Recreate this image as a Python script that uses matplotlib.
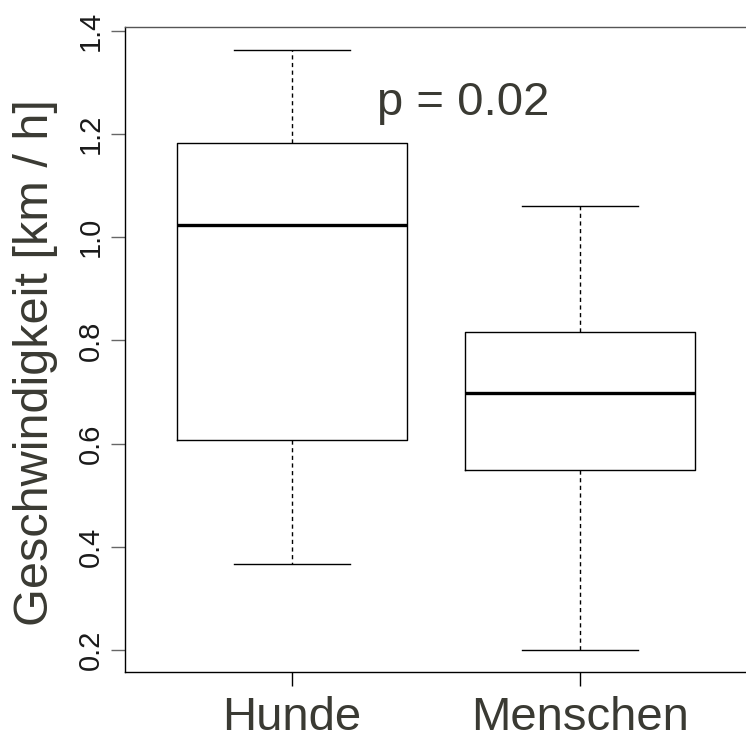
import matplotlib
matplotlib.use("Agg")
import matplotlib.pyplot as plt
import numpy as np

plt.rcParams['font.family'] = ['Liberation Sans', 'DejaVu Sans']

# box statistics
groups = ["Hunde", "Menschen"]
whisker_low = [0.367, 0.200]
q1 = [0.607, 0.549]
median = [1.024, 0.698]
q3 = [1.183, 0.816]
whisker_high = [1.363, 1.061]

yticks = [0.2, 0.4, 0.6, 0.8, 1.0, 1.2, 1.4]
p_text = "p = 0.02"

text_col = '#3a3a33'

fig = plt.figure(figsize=(7.46, 7.43), dpi=100)
ax = fig.add_axes([125 / 746, 1 - 672 / 743, 622 / 746, 645 / 743])

stats = []
for i, g in enumerate(groups):
    stats.append(dict(label=g, whislo=whisker_low[i], q1=q1[i], med=median[i],
                      q3=q3[i], whishi=whisker_high[i], fliers=[]))

ax.bxp(stats, positions=[1, 2], widths=0.8, showfliers=False,
       boxprops=dict(color='black', lw=1.0),
       medianprops=dict(color='black', lw=2.4, solid_capstyle='butt'),
       whiskerprops=dict(color='black', lw=1.0, linestyle=(0, (3, 2.5))),
       capprops=dict(color='black', lw=1.0),
       capwidths=0.4)

ax.set_xlim(0.42, 2.58)
ax.set_ylim(0.157, 1.4078)

ax.set_yticks(yticks)
ax.set_yticklabels([f"{v:.1f}" for v in yticks])
ax.set_xticks([1, 2])
ax.set_xticklabels(groups)

ax.tick_params(axis='y', labelrotation=90, length=10, width=1, color='#666666',
               labelsize=21, labelcolor='#1a1a1a', pad=4.5)
ax.tick_params(axis='x', length=10, width=1, color='black',
               labelsize=34, labelcolor=text_col, pad=7.5)
for lab in ax.get_yticklabels():
    lab.set_va('center')

for s in ax.spines.values():
    s.set_linewidth(1.0)
    s.set_color('black')
ax.spines['top'].set_color('#555555')

fig.text(36 / 746, 1 - 363 / 743, "Geschwindigkeit [km / h]", rotation=90,
         ha='center', va='center', fontsize=35, color=text_col)

ax.text(1.596, 1.4 - (115 - 31) / 515.8, p_text, ha='center', va='baseline',
        fontsize=34, color=text_col)

fig.savefig("out.png", dpi=100)
